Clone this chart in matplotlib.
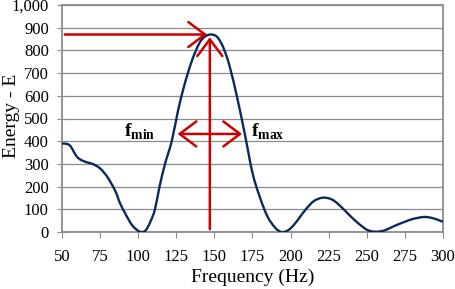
import numpy as np
import matplotlib.pyplot as plt
from matplotlib.patches import FancyArrowPatch, PathPatch
from matplotlib.path import Path

plt.rcParams['font.family'] = ['Liberation Serif', 'DejaVu Serif']
plt.rcParams['mathtext.fontset'] = 'custom'
plt.rcParams['mathtext.bf'] = 'Liberation Serif:bold'
plt.rcParams['mathtext.rm'] = 'Liberation Serif'

# datos
frecuencia = [50, 55, 60, 65, 70, 75, 80, 85, 88, 92, 96, 100, 102.5, 105, 108, 111, 114,
              117.6, 122, 126, 130, 135, 140, 144, 148, 152, 156, 160, 165, 170, 175, 180,
              185, 190, 194, 198, 202, 206, 210, 215, 220, 224, 228, 232, 236, 240, 245,
              250, 254, 258, 262, 266, 270, 275, 280, 287, 292, 296, 300]
energia = [390, 382, 330, 310, 300, 280, 240, 180, 128, 75, 30, 5, 0, 8, 45, 100, 200,
           300, 400, 530, 640, 750, 830, 862, 870, 858, 810, 730, 590, 430, 260, 150,
           66, 18, 0, 6, 30, 65, 100, 135, 150, 150, 140, 118, 92, 65, 35,
           10, 2, 2, 8, 20, 32, 45, 57, 66, 63, 55, 45]

f_pico = 147
e_pico = 870
f_min = 124
f_max = 170
e_banda = 432

rojo = '#cc0000'
gris = '#8c8c8c'


def linea_suave(x, y):
    # curva suavizada tipo excel (catmull-rom -> bezier)
    p = np.column_stack([x, y]).astype(float)
    p = np.vstack([p[0], p, p[-1]])
    verts = [p[1]]
    codes = [Path.MOVETO]
    for i in range(1, len(p) - 2):
        c1 = p[i] + (p[i + 1] - p[i - 1]) / 6
        c2 = p[i + 1] - (p[i + 2] - p[i]) / 6
        verts += [c1, c2, p[i + 1]]
        codes += [Path.CURVE4] * 3
    return Path(verts, codes)


fig = plt.figure(figsize=(4.55, 2.89), dpi=100)
ax = fig.add_axes([62/455, 1-232/289, 381/455, 227/289])

ax.add_patch(PathPatch(linea_suave(frecuencia, energia), facecolor='none',
                       edgecolor='#0b2a5b', lw=1.7, zorder=3))

ax.set_xlim(50, 300)
ax.set_ylim(0, 1000)
ax.set_xticks(range(50, 301, 25))
ax.set_yticks(range(0, 1001, 100))
ax.set_yticklabels(['{:,}'.format(v) for v in range(0, 1001, 100)])
ax.grid(True, axis='y', color=gris, lw=0.9)
ax.set_axisbelow(True)
for lado in ax.spines.values():
    lado.set_color(gris)
    lado.set_linewidth(1.3)
ax.tick_params(labelsize=12, colors=gris, labelcolor='black')
ax.tick_params(axis='y', direction='inout', length=7, pad=6)
ax.tick_params(axis='x', direction='out', length=4, pad=8)
ax.set_xlabel('Frequency (Hz)', fontsize=14)
ax.set_ylabel('Energy - E', fontsize=14)
ax.xaxis.set_label_coords(0.5, -0.16)
ax.yaxis.set_label_coords(-0.11, 0.51)

# flechas rojas
estilo = dict(color=rojo, lw=1.8, mutation_scale=20, zorder=4)
ax.add_patch(FancyArrowPatch((50, e_pico), (f_pico, e_pico),
                             arrowstyle='->,head_length=0.6,head_width=0.45', **estilo))
ax.add_patch(FancyArrowPatch((f_pico, 0), (f_pico, e_pico),
                             arrowstyle='->,head_length=0.6,head_width=0.45', **estilo))
ax.add_patch(FancyArrowPatch((f_min, e_banda), (f_max, e_banda),
                             arrowstyle='<->,head_length=0.6,head_width=0.45', **estilo))

ax.text(101, e_banda + 10, r'$\mathbf{f}_{\mathbf{min}}$', fontsize=14, ha='center', va='center')
ax.text(185, e_banda + 10, r'$\mathbf{f}_{\mathbf{max}}$', fontsize=14, ha='center', va='center')

plt.savefig('out.png', dpi=100)
